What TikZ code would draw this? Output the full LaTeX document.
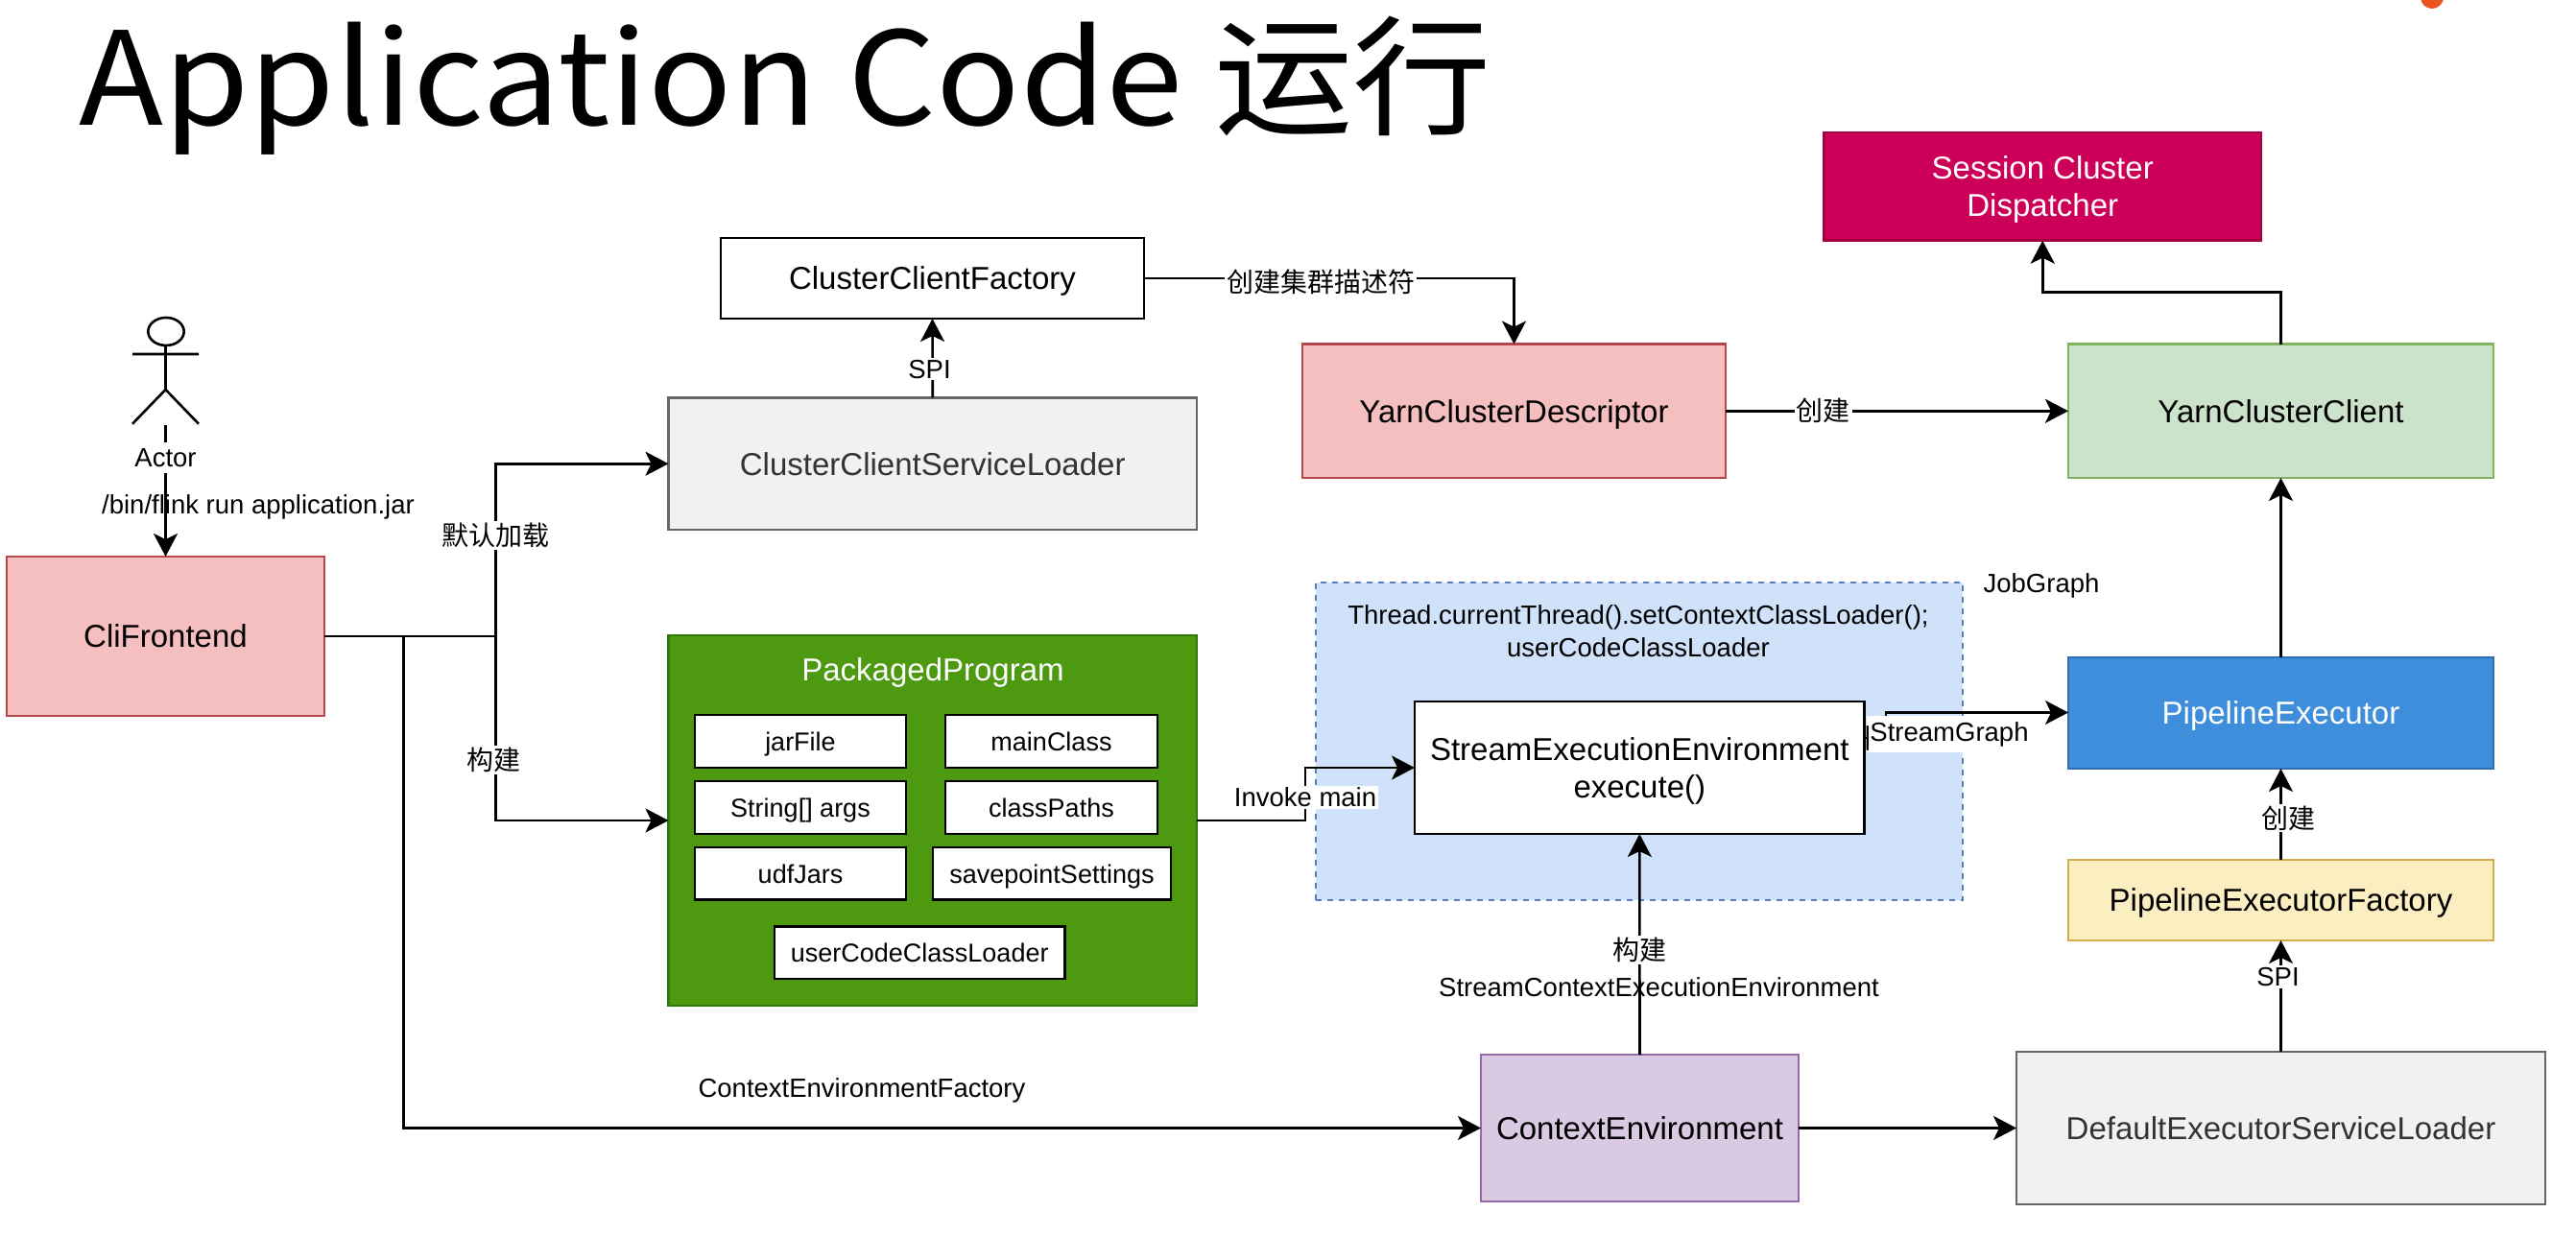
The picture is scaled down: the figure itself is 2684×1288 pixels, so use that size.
\documentclass[tikz,border=0pt]{standalone}
\usepackage{fontspec}
\setmainfont{Liberation Sans}
\newfontfamily\cjk{Noto Sans CJK SC}
\newfontfamily\titlefont[FakeStretch=1.07]{Noto Sans CJK SC}
\usetikzlibrary{arrows.meta}
\definecolor{redf}{HTML}{F5BFBF}\definecolor{redd}{HTML}{B5474A}
\definecolor{grayf}{HTML}{F1F1F1}\definecolor{grayd}{HTML}{666666}
\definecolor{pkgf}{HTML}{4D9A10}\definecolor{pkgd}{HTML}{2F7A0A}
\definecolor{bluef}{HTML}{D0E2FA}\definecolor{blued}{HTML}{5B7FBE}
\definecolor{pef}{HTML}{3F8EDB}\definecolor{ped}{HTML}{2F6DB5}
\definecolor{yelf}{HTML}{FBEFC2}\definecolor{yeld}{HTML}{D3AE4B}
\definecolor{purf}{HTML}{D9C9E2}\definecolor{purd}{HTML}{926BA6}
\definecolor{grnf}{HTML}{CCE3CB}\definecolor{grnd}{HTML}{7FB35F}
\definecolor{sesf}{HTML}{CC0058}\definecolor{sesd}{HTML}{A50045}
\definecolor{dot}{HTML}{E8531F}
\tikzset{
  x=0.5pt,y=-0.5pt,
  boxbase/.style={inner sep=0pt,outer sep=0pt,line width=1.2pt,align=center,text depth=0pt,font=\fontsize{16.5}{19.5}\selectfont},
  fieldbox/.style={boxbase,draw=black,fill=white,font=\fontsize{13.5}{16}\selectfont},
  whitebox/.style={boxbase,draw=black,fill=white},
  redbox/.style={boxbase,draw=redd,fill=redf},
  graybox/.style={boxbase,draw=grayd,fill=grayf,text=black!80},
  greenpkg/.style={boxbase,draw=pkgd,fill=pkgf,text=white},
  dashbox/.style={boxbase,draw=blued,fill=bluef,dashed},
  blueexec/.style={boxbase,draw=ped,fill=pef,text=white},
  yelbox/.style={boxbase,draw=yeld,fill=yelf},
  purbox/.style={boxbase,draw=purd,fill=purf},
  grnbox/.style={boxbase,draw=grnd,fill=grnf},
  sesbox/.style={boxbase,draw=sesd,fill=sesf,text=white},
  edge/.style={draw=black,line width=1.3pt,-{Stealth[length=12pt,width=12.5pt,inset=3pt]}},
  plain/.style={draw=black,line width=1.3pt},
  lbl/.style={inner sep=1pt,font=\fontsize{13.75}{17}\selectfont,align=center},
  wlbl/.style={lbl,fill=white},
  cjklbl/.style={wlbl,font=\cjk\fontsize{14}{17}\selectfont},
  actorline/.style={draw=black,line width=1.3pt},
}
\newcommand\bx[7]{\node[#6,minimum width={(#4-#2)*0.5pt},minimum height={(#5-#3)*0.5pt}] (#1) at ({(#2+#4)/2},{(#3+#5)/2}) {#7};}
\begin{document}
\begin{tikzpicture}
\useasboundingbox (0,0) rectangle (2684,1288);
\fill[white] (0,0) rectangle (2684,1288);
\fill[dot] (2534,-3) circle[radius=6pt];
% title
\node[anchor=base west,inner sep=0pt,font=\titlefont\fontsize{67.5}{72}\selectfont] (title) at (82,131) {Application Code 运行};
% boxes
\bx{cli}{7}{580}{338}{746}{redbox}{CliFrontend}
\bx{factory}{751}{248}{1192}{332}{whitebox}{ClusterClientFactory}
\bx{loader}{696.5}{414.5}{1247}{552}{graybox}{ClusterClientServiceLoader}
\bx{pkg}{696.5}{662}{1247}{1048}{greenpkg}{}
\bx{jar}{724}{745}{944}{800}{fieldbox}{jarFile}
\bx{mainc}{985}{745}{1206}{800}{fieldbox}{mainClass}
\bx{args}{724}{814}{944}{869}{fieldbox}{String[] args}
\bx{cpaths}{985}{814}{1206}{869}{fieldbox}{classPaths}
\bx{udf}{724}{883}{944}{937.5}{fieldbox}{udfJars}
\bx{save}{972}{883}{1220}{937.5}{fieldbox}{savepointSettings}
\bx{ucl}{807}{965.5}{1109.5}{1020}{fieldbox}{userCodeClassLoader}
\bx{blue}{1371}{607}{2045}{938}{dashbox}{}
\bx{see}{1474}{731}{1942.6}{869}{whitebox}{StreamExecutionEnvironment\\execute()}
\bx{pe}{2155}{685}{2598}{801}{blueexec}{PipelineExecutor}
\bx{pef}{2155}{896}{2598}{980}{yelbox}{PipelineExecutorFactory}
\bx{ctx}{1543}{1099}{1874}{1252}{purbox}{ContextEnvironment}
\bx{des}{2101}{1096}{2652}{1255}{graybox}{DefaultExecutorServiceLoader}
\bx{ses}{1900.5}{138}{2356}{250.7}{sesbox}{Session Cluster\\Dispatcher}
\bx{ydesc}{1357}{358.6}{1798}{498}{redbox}{YarnClusterDescriptor}
\bx{ycc}{2155}{358.6}{2598}{498}{grnbox}{YarnClusterClient}
\node[font=\fontsize{16.5}{19.5}\selectfont,text=white,inner sep=0pt,text depth=0pt] (pkgt) at (972,698) {PackagedProgram};
\node[lbl] (thr) at (1707,658) {Thread.currentThread().setContextClassLoader();\\userCodeClassLoader};
\node[lbl] (jg) at (2127,610) {JobGraph};
% actor
\draw[actorline] (173,345.5) ellipse[x radius=18.7,y radius=14.5];
\coordinate (afoot) at (172.5,443);
\draw[actorline] (172.5,360) -- (172.5,406) (138,369) -- (207,369) (138,441.7) -- (172.5,406) -- (207,441.7);
% junctions
\coordinate (j1) at (516.6,663);
\coordinate (j2) at (420.5,663);
\coordinate (im) at (1360,800);
\coordinate (sgb) at (1946,769);
\coordinate (sgm) at (1965,769);
\coordinate (sg) at (1965,742.5);
\coordinate (sesj) at (2376.5,304.6);
% edges
\draw[edge] (afoot) -- (cli.north);
\draw[plain] (cli.east) -- (j1);
\draw[edge] (j1) |- (loader.west);
\draw[edge] (j1) |- (pkg.west);
\draw[edge] (j2) |- (ctx.west);
\draw[edge] (loader.north) -- (factory.south);
\draw[edge] (factory.east) -| (ydesc.north);
\draw[edge] (ydesc.east) -- (ycc.west);
\draw[edge] (ycc.north) -- (sesj) -| (ses.south);
\draw[edge] (pe.north) -- (ycc.south);
\draw[edge] (pef.north) -- (pe.south);
\draw[edge] (des.north) -- (pef.south);
\draw[edge] (ctx.east) -- (des.west);
\draw[edge] (ctx.north) -- (see.south);
\draw[edge] (pkg.east) -| (im) -- (see.west);
\draw[edge] (see.east |- sgb) -- (sgm) -- (sg) -- (pe.west |- sg);
% labels
\node[wlbl,inner ysep=3pt] (l1) at (172.5,477) {Actor};
\node[lbl] (l2) at (269,528) {/bin/flink run application.jar};
\node[cjklbl] (l3) at (516.6,558) {默认加载};
\node[cjklbl] (l4) at (514,792) {构建};
\node[lbl] (l5) at (898,1136.5) {ContextEnvironmentFactory};
\node[wlbl] (l6) at (968.5,384.6) {SPI};
\node[cjklbl] (l7) at (1376,294) {创建集群描述符};
\node[cjklbl] (l8) at (1899.6,428) {创建};
\node[wlbl] (l9) at (1360,831) {Invoke main};
\node[wlbl,inner ysep=3pt,inner xsep=1.5pt] (l10) at (2031,765) {StreamGraph};
\node[lbl,inner sep=0pt] (l10b) at (1946,769) {|};
\node[cjklbl] (l11) at (1708,990) {构建};
\node[lbl] (l12) at (1728.5,1029) {StreamContextExecutionEnvironment};
\node[wlbl] (l13) at (2373.5,1018) {SPI};
\node[cjklbl] (l14) at (2384.5,852.5) {创建};
\end{tikzpicture}
\end{document}
